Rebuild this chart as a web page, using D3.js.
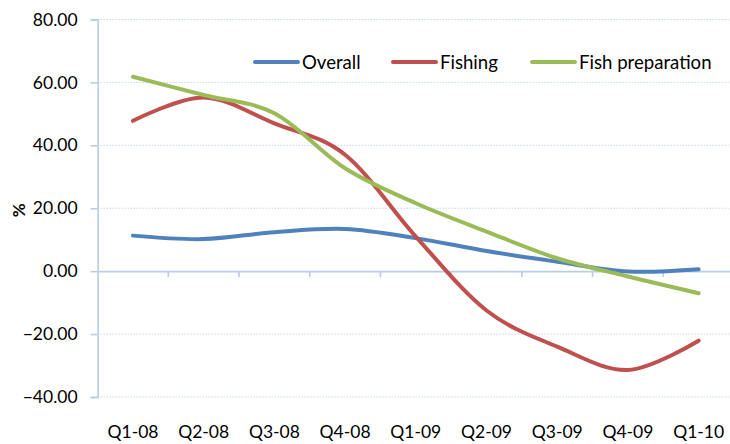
<!DOCTYPE html>
<html>
<head>
<meta charset="utf-8">
<script src="https://cdn.jsdelivr.net/npm/d3@7/dist/d3.min.js"></script>
<style>
  html, body { margin: 0; padding: 0; background: #fff; }
  svg { display: block; }
  text { font-family: Lato, "Open Sans", sans-serif; fill: #000; }
</style>
</head>
<body>
<svg id="chart" width="730" height="444"></svg>
<script>
// Quarterly change, %
const quarters = ["Q1-08", "Q2-08", "Q3-08", "Q4-08", "Q1-09", "Q2-09", "Q3-09", "Q4-09", "Q1-10"];
const overall = [11.3, 10.2, 12.4, 13.4, 10.5, 6.4, 3.0, -0.1, 0.6];
const fishing = [47.8, 55.2, 47.0, 37.0, 11.0, -12.5, -24.0, -31.4, -22.1];
const fishPrep = [61.8, 56.0, 50.2, 32.7, 21.6, 12.6, 4.1, -1.7, -7.0];
const seriesNames = ["Overall", "Fishing", "Fish preparation"];
const yTicks = [-40, -20, 0, 20, 40, 60, 80];

const series = [
  { name: seriesNames[0], values: overall, color: "#4F81BD" },
  { name: seriesNames[1], values: fishing, color: "#C0504D" },
  { name: seriesNames[2], values: fishPrep, color: "#9BBB59" }
];

const svg = d3.select("#chart");
const plot = { left: 97.6, right: 734, top: 19.5, bottom: 397 };
const axisColor = "#B9CDE5";

const x = d3.scaleBand().domain(quarters).range([plot.left, plot.right]);
const y = d3.scaleLinear().domain([-40, 80]).range([plot.bottom, plot.top]);

// horizontal gridlines
svg.append("g").selectAll("line")
  .data(yTicks.filter(d => d !== 0))
  .join("line")
  .attr("x1", plot.left).attr("x2", plot.right)
  .attr("y1", d => y(d)).attr("y2", d => y(d))
  .attr("stroke", axisColor).attr("stroke-width", 1)
  .attr("stroke-dasharray", "1.2,1.8");

// y axis
const yAxis = svg.append("g").attr("transform", `translate(${plot.left},0)`)
  .call(d3.axisLeft(y).tickValues(yTicks).tickSize(7).tickPadding(13).tickFormat(d3.format(".2f")));
yAxis.select(".domain").attr("stroke", axisColor).attr("stroke-width", 1.6);
yAxis.selectAll(".tick line").attr("stroke", axisColor).attr("stroke-width", 1.6);
yAxis.selectAll(".tick text").attr("font-size", 17.5).attr("font-family", "Lato, sans-serif").attr("fill", "#000");

// x axis along zero
const xAxis = svg.append("g").attr("transform", `translate(0,${y(0)})`)
  .call(d3.axisBottom(x).tickSize(0).tickFormat(""));
xAxis.select(".domain").attr("stroke", axisColor).attr("stroke-width", 1.6);
svg.append("g").selectAll("line")
  .data(quarters.slice(1))
  .join("line")
  .attr("x1", d => x(d)).attr("x2", d => x(d))
  .attr("y1", y(0)).attr("y2", y(0) + 6)
  .attr("stroke", axisColor).attr("stroke-width", 1.6);

// category labels at the bottom
svg.append("g").selectAll("text")
  .data(quarters)
  .join("text")
  .attr("x", d => x(d) + x.bandwidth() / 2)
  .attr("y", 438)
  .attr("text-anchor", "middle")
  .attr("font-size", 17.5)
  .text(d => d);

// y axis title
svg.append("text")
  .attr("transform", `translate(25,${y(20) + 2}) rotate(-90)`)
  .attr("text-anchor", "middle")
  .attr("font-size", 17)
  .attr("font-weight", "bold")
  .text("%");

// series lines
const line = d3.line()
  .x((d, i) => x(quarters[i]) + x.bandwidth() / 2)
  .y(d => y(d))
  .curve(d3.curveCardinal.tension(0));

svg.append("g").selectAll("path")
  .data(series)
  .join("path")
  .attr("d", d => line(d.values))
  .attr("fill", "none")
  .attr("stroke", d => d.color)
  .attr("stroke-width", 4)
  .attr("stroke-linecap", "round");

// legend
const legendX = [255, 393, 532];
const legend = svg.append("g").selectAll("g")
  .data(series)
  .join("g")
  .attr("transform", (d, i) => `translate(${legendX[i]},62)`);
legend.append("line")
  .attr("x1", 0).attr("x2", 43).attr("y1", 0).attr("y2", 0)
  .attr("stroke", d => d.color).attr("stroke-width", 4).attr("stroke-linecap", "round");
legend.append("text")
  .attr("x", 47).attr("y", 6.5)
  .attr("font-size", 18.6)
  .text(d => d.name);
</script>
</body>
</html>
